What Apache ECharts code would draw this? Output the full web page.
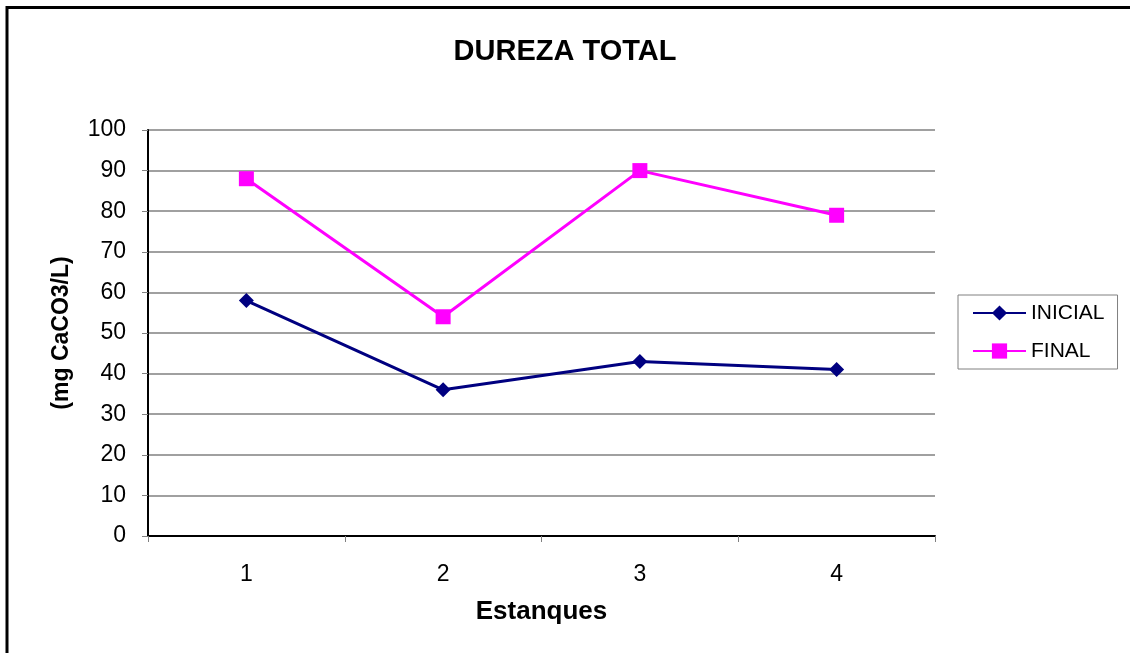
<!DOCTYPE html>
<html>
<head>
<meta charset="utf-8">
<script src="https://cdn.jsdelivr.net/npm/echarts@6/dist/echarts.min.js"></script>
<style>
  html, body { margin: 0; padding: 0; background: #fff; }
  #chart { width: 1130px; height: 653px; }
</style>
</head>
<body>
<div id="chart"></div>
<script>
// datos
const estanques = ['1', '2', '3', '4'];
const inicial = [58, 36, 43, 41];
const final = [88, 54, 90, 79];

const chart = echarts.init(document.getElementById('chart'));

const fontFamily = 'Liberation Sans, Arial, sans-serif';

const option = {
  animation: false,
  backgroundColor: '#fff',
  textStyle: { fontFamily: fontFamily },
  // marco exterior
  graphic: [{
    type: 'rect',
    shape: { x: 7, y: 7.5, width: 1300, height: 900 },
    style: { fill: 'none', stroke: '#000', lineWidth: 3 },
    silent: true
  }],
  title: {
    text: 'DUREZA TOTAL',
    left: 'center',
    top: 37,
    padding: 0,
    textStyle: { fontSize: 29, fontWeight: 'bold', color: '#000', fontFamily: fontFamily }
  },
  grid: {
    left: 148,
    right: 195,
    top: 130,
    bottom: 117
  },
  legend: {
    orient: 'vertical',
    left: 958,
    top: 295,
    padding: [7, 13, 7, 14],
    itemWidth: 53,
    itemHeight: 19,
    itemGap: 16,
    borderColor: '#808080',
    borderWidth: 1,
    textStyle: { fontSize: 21, lineHeight: 22, color: '#000', fontFamily: fontFamily },
    data: ['INICIAL', 'FINAL']
  },
  xAxis: {
    type: 'category',
    data: estanques,
    boundaryGap: true,
    name: 'Estanques',
    nameLocation: 'middle',
    nameGap: 63,
    nameTextStyle: { fontSize: 26, fontWeight: 'bold', color: '#000' },
    axisLine: { lineStyle: { color: '#000', width: 2 } },
    axisTick: { show: true, inside: false, length: 6, lineStyle: { color: '#808080' } },
    axisLabel: { fontSize: 23, color: '#000', margin: 27 },
    splitLine: { show: false }
  },
  yAxis: {
    type: 'value',
    min: 0,
    max: 100,
    interval: 10,
    name: '(mg CaCO3/L)',
    nameLocation: 'middle',
    nameRotate: 90,
    nameGap: 75,
    nameTextStyle: { fontSize: 23, fontWeight: 'bold', color: '#000' },
    axisLine: { show: true, lineStyle: { color: '#000', width: 2 } },
    axisTick: { show: true, inside: false, length: 6, lineStyle: { color: '#808080' } },
    axisLabel: { fontSize: 23, color: '#000', margin: 22 },
    splitLine: { show: true, lineStyle: { color: '#808080', width: 1.5 } }
  },
  series: [{
    name: 'INICIAL',
    type: 'line',
    data: inicial,
    symbol: 'diamond',
    symbolSize: 15,
    lineStyle: { color: '#000080', width: 3 },
    itemStyle: { color: '#000080' }
  }, {
    name: 'FINAL',
    type: 'line',
    data: final,
    symbol: 'rect',
    symbolSize: 15,
    lineStyle: { color: '#ff00ff', width: 3 },
    itemStyle: { color: '#ff00ff' }
  }]
};

chart.setOption(option);
</script>
</body>
</html>
